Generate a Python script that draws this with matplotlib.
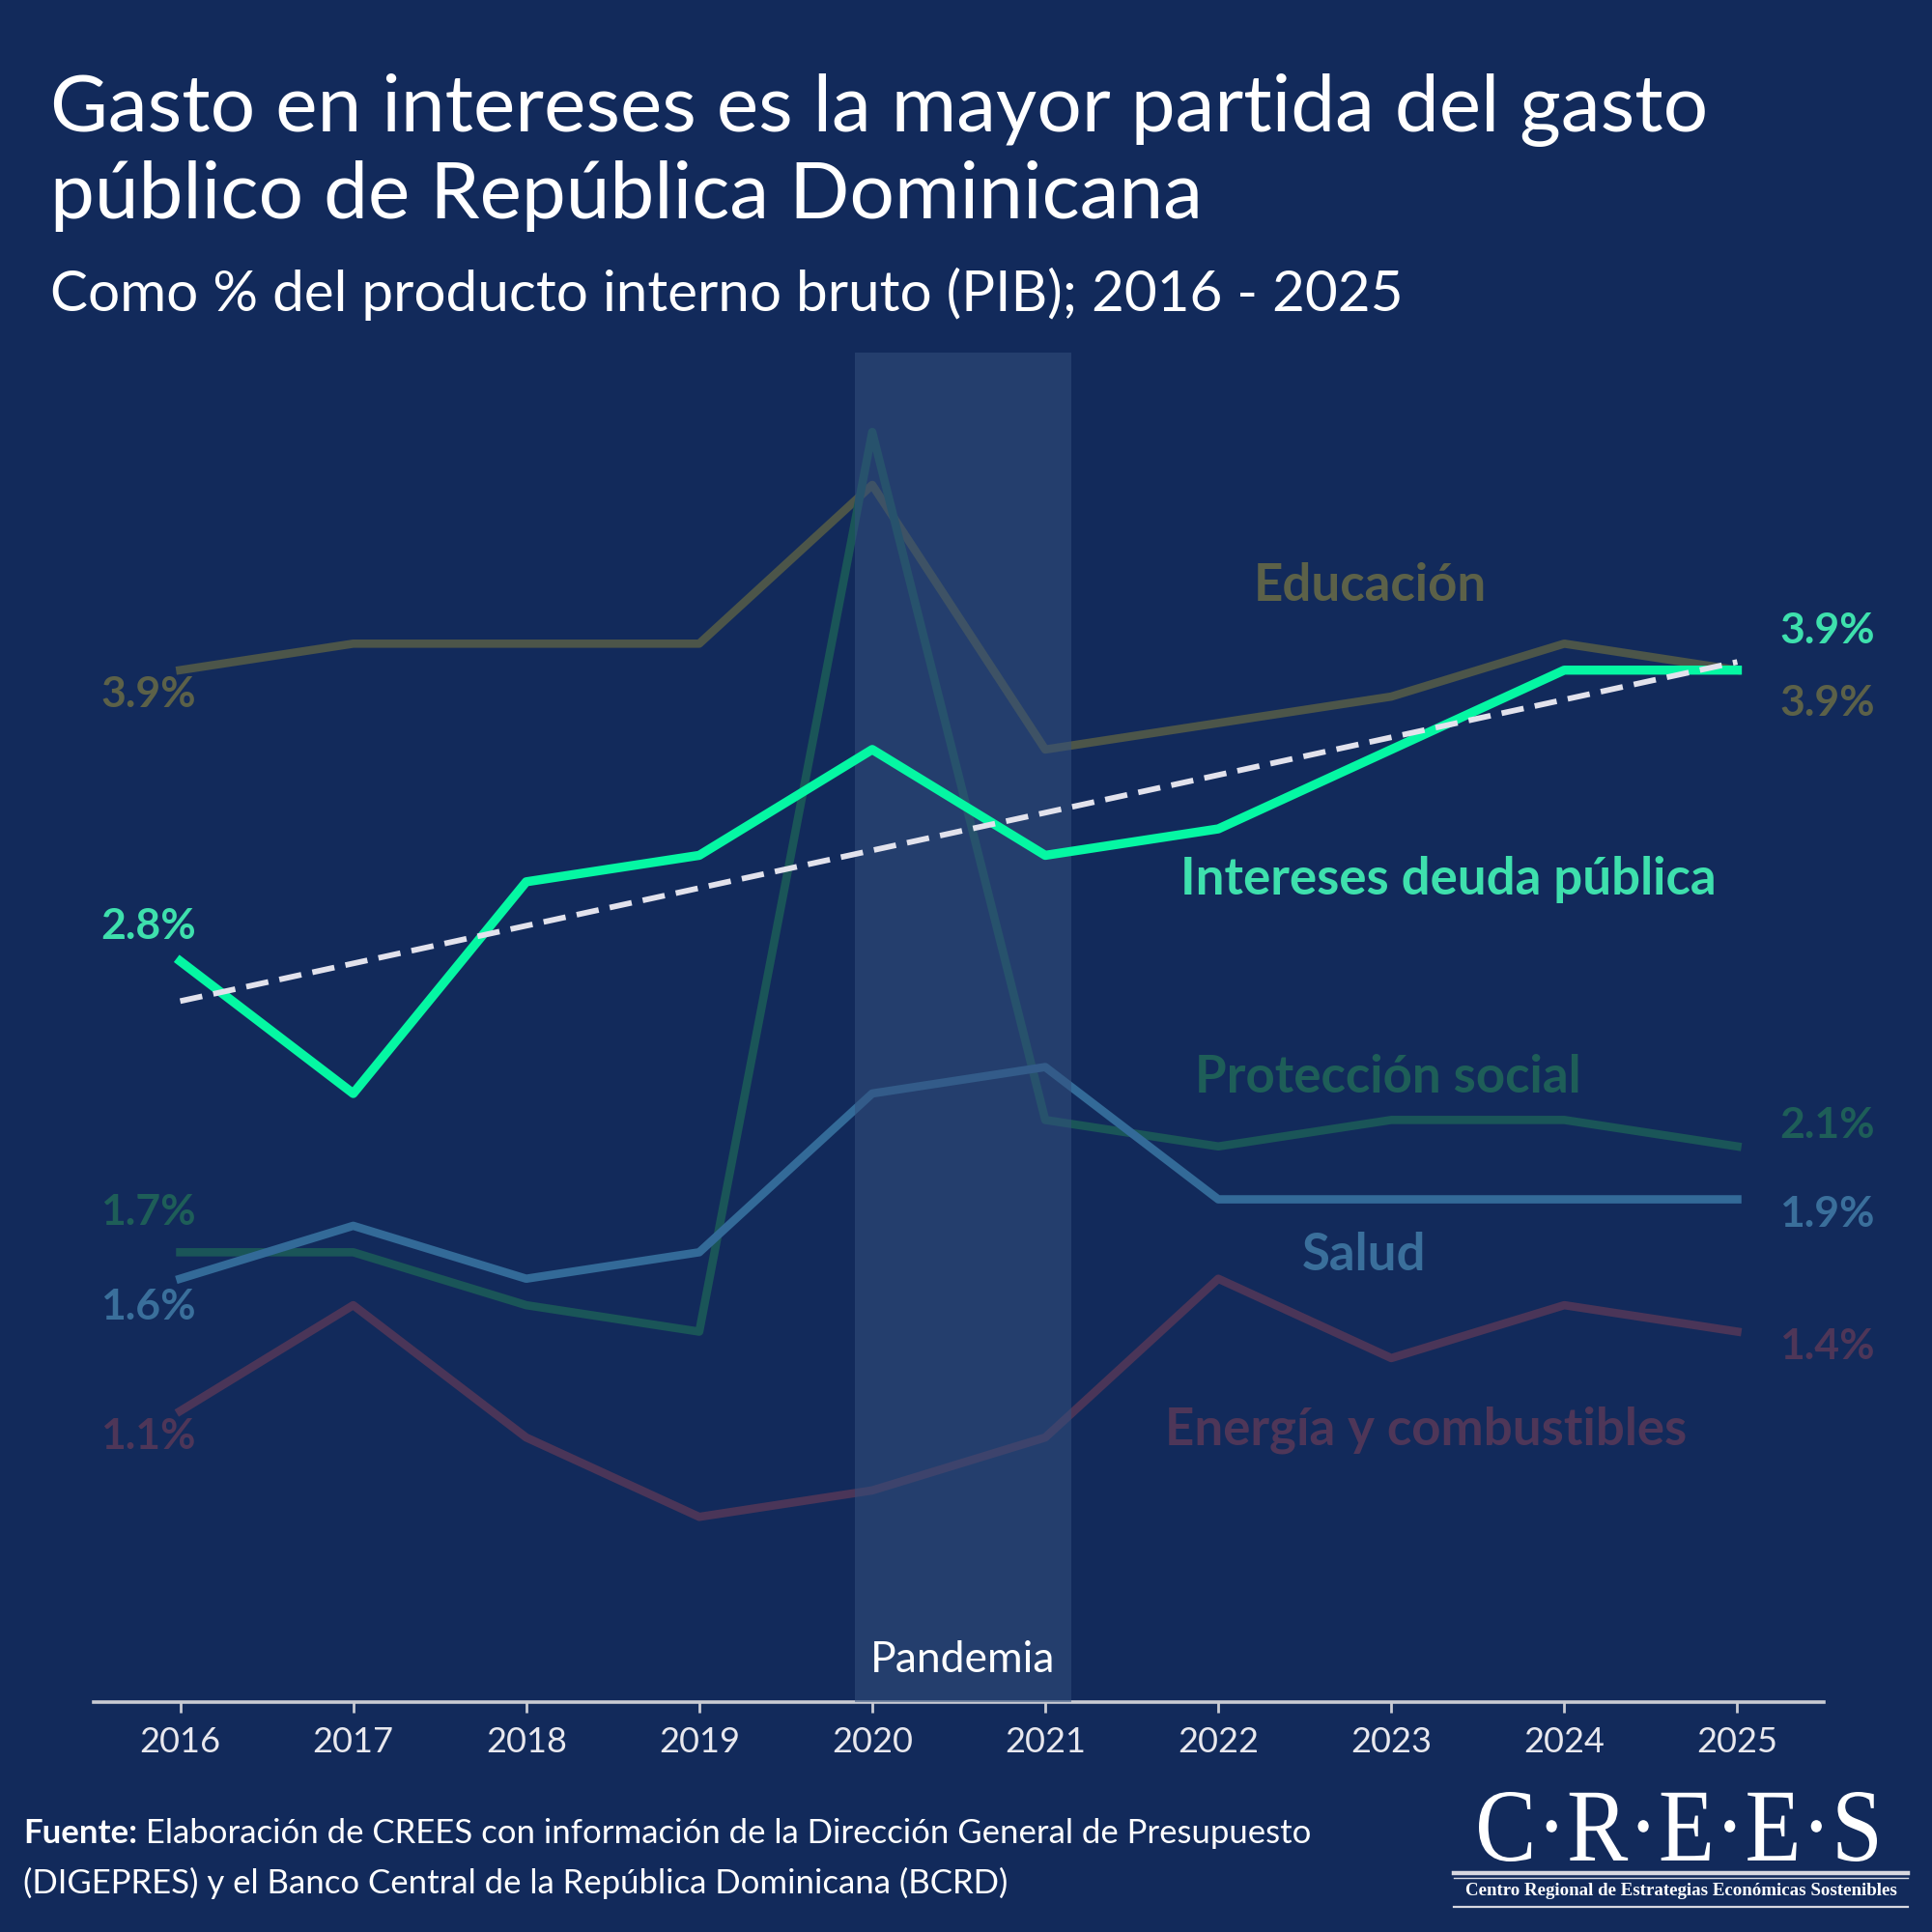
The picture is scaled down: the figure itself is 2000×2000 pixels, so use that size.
import numpy as np
import matplotlib
matplotlib.use("Agg")
import matplotlib.pyplot as plt
from matplotlib.lines import Line2D
from matplotlib.textpath import TextPath
from matplotlib.font_manager import FontProperties
from matplotlib.patches import PathPatch
from matplotlib.transforms import Affine2D

plt.rcParams['font.family'] = ['Lato', 'DejaVu Sans']

# data (% del PIB)
years = [2016, 2017, 2018, 2019, 2020, 2021, 2022, 2023, 2024, 2025]
intereses = [2.8, 2.3, 3.1, 3.2, 3.6, 3.2, 3.3, 3.6, 3.9, 3.9]
educacion = [3.9, 4.0, 4.0, 4.0, 4.6, 3.6, 3.7, 3.8, 4.0, 3.9]
proteccion = [1.7, 1.7, 1.5, 1.4, 4.8, 2.2, 2.1, 2.2, 2.2, 2.1]
salud = [1.6, 1.8, 1.6, 1.7, 2.3, 2.4, 1.9, 1.9, 1.9, 1.9]
energia = [1.1, 1.5, 1.0, 0.7, 0.8, 1.0, 1.6, 1.3, 1.5, 1.4]
pandemia = (2019.9, 2021.15)

BG = '#122a5b'
C_INT = '#05f7a3'
C_INT_TXT = '#3ee0ad'
C_EDU = '#4c5549'
C_EDU_TXT = '#5c6148'
C_PRO = '#1a5558'
C_PRO_TXT = '#1e5e58'
C_SAL = '#336a98'
C_SAL_TXT = '#3a6f9b'
C_ENE = '#4a3558'
C_ENE_TXT = '#4e3658'

fig = plt.figure(figsize=(10, 10), dpi=200, facecolor=BG)
ax = fig.add_axes([0.0485, 0.119, 0.8955, 0.6985])
ax.set_facecolor(BG)

# lines
ax.plot(years, educacion, color=C_EDU, lw=3.1, zorder=2)
ax.plot(years, proteccion, color=C_PRO, lw=3.1, zorder=2)
ax.plot(years, energia, color=C_ENE, lw=3.1, zorder=2)
ax.plot(years, salud, color=C_SAL, lw=3.1, zorder=2)
ax.plot(years, intereses, color=C_INT, lw=3.4, zorder=4)

# tendencia lineal de intereses
coef = np.polyfit(years, intereses, 1)
trend = np.polyval(coef, [years[0], years[-1]])
ax.plot([years[0], years[-1]], trend, color='#e2e2ec', lw=2.1,
        dashes=(4.0, 2.0), zorder=5)

# pandemia
ax.axvspan(pandemia[0], pandemia[1], color='#33507d', alpha=0.55, lw=0, zorder=3)
ax.text((pandemia[0] + pandemia[1]) / 2, 0.16, 'Pandemia', color='white',
        fontsize=16, ha='center', va='center', zorder=6)

# axes
ax.set_xlim(2015.5, 2025.5)
ax.set_ylim(0, 5.1)
ax.set_xticks(years)
ax.set_xticklabels([str(y) for y in years])
ax.set_yticks([])
for s in ['left', 'right', 'top']:
    ax.spines[s].set_visible(False)
ax.spines['bottom'].set_color('#c9cbd3')
ax.spines['bottom'].set_linewidth(1.3)
ax.tick_params(axis='x', colors='#c9cbd3', length=4, width=1.0, pad=5,
               labelsize=13, labelcolor='#e8e8ee')

# end labels
def end_label(x, v, txt, color, dx, dy):
    ax.annotate(txt, xy=(x, v), xytext=(dx, dy), textcoords='offset pixels',
                color=color, fontsize=16, fontweight='bold',
                ha='center', va='center', zorder=6)

end_label(years[0], educacion[0], f'{educacion[0]}%', C_EDU_TXT, -33, -25)
end_label(years[0], intereses[0], f'{intereses[0]}%', C_INT_TXT, -33, 36)
end_label(years[0], proteccion[0], f'{proteccion[0]}%', C_PRO_TXT, -33, 41)
end_label(years[0], salud[0], f'{salud[0]}%', C_SAL_TXT, -33, -29)
end_label(years[0], energia[0], f'{energia[0]}%', C_ENE_TXT, -33, -26)

end_label(years[-1], intereses[-1], f'{intereses[-1]}%', C_INT_TXT, 93, 41)
end_label(years[-1], educacion[-1], f'{educacion[-1]}%', C_EDU_TXT, 93, -34)
end_label(years[-1], proteccion[-1], f'{proteccion[-1]}%', C_PRO_TXT, 93, 22)
end_label(years[-1], salud[-1], f'{salud[-1]}%', C_SAL_TXT, 93, -15)
end_label(years[-1], energia[-1], f'{energia[-1]}%', C_ENE_TXT, 93, -15)

# series names
names = [
    ('Educación', C_EDU_TXT, 2022.88, 4.22),
    ('Intereses deuda pública', C_INT_TXT, 2023.33, 3.11),
    ('Protección social', C_PRO_TXT, 2022.98, 2.36),
    ('Salud', C_SAL_TXT, 2022.84, 1.69),
    ('Energía y combustibles', C_ENE_TXT, 2023.2, 1.03),
]
for txt, col, x, y in names:
    ax.text(x, y, txt, color=col, fontsize=19, fontweight='bold',
            ha='center', va='center', zorder=6)

# titles
fig.text(0.026, 0.921, 'Gasto en intereses es la mayor partida del gasto\npúblico de República Dominicana',
         color='white', fontsize=29.5, ha='left', va='center', linespacing=1.25)
fig.text(0.026, 0.848, 'Como % del producto interno bruto (PIB); 2016 - 2025',
         color='white', fontsize=21, ha='left', va='center')

# fuente
t1 = fig.text(0.012, 0.051, 'Fuente:', color='white', fontsize=12.5,
              fontweight='bold', ha='left', va='center')
ax.annotate(' Elaboración de CREES con información de la Dirección General de Presupuesto',
            xy=(1, 0.5), xycoords=t1, color='white', fontsize=12.5,
            ha='left', va='center', annotation_clip=False)
fig.text(0.012, 0.0255, '(DIGEPRES) y el Banco Central de la República Dominicana (BCRD)',
         color='white', fontsize=12.5, ha='left', va='center')

# logo
tp = TextPath((0, 0), 'C·R·E·E·S', size=1,
              prop=FontProperties(family=['Liberation Serif', 'DejaVu Serif']))
ext = tp.get_extents()
tr = (Affine2D().translate(-ext.x0, -ext.y0)
      .scale(0.206 / ext.width, 0.036 / ext.height)
      .translate(0.7655, 0.0365))
fig.add_artist(PathPatch(tr.transform_path(tp), fc='white', lw=0,
                         transform=fig.transFigure))
fig.add_artist(Line2D([0.7525, 0.9875], [0.0305, 0.0305], color='#d8d8e0', lw=1.6,
                      transform=fig.transFigure))
fig.add_artist(Line2D([0.7525, 0.9875], [0.0280, 0.0280], color='#d8d8e0', lw=0.5,
                      transform=fig.transFigure))
fig.text(0.870, 0.0215, 'Centro Regional de Estrategias Económicas Sostenibles',
         color='white', fontsize=6.8, fontweight='bold',
         family=['Liberation Serif', 'DejaVu Serif'], ha='center', va='center')
fig.add_artist(Line2D([0.7525, 0.9875], [0.0130, 0.0130], color='#d8d8e0', lw=0.8,
                      transform=fig.transFigure))

fig.savefig('out.png', dpi=200, facecolor=BG)
